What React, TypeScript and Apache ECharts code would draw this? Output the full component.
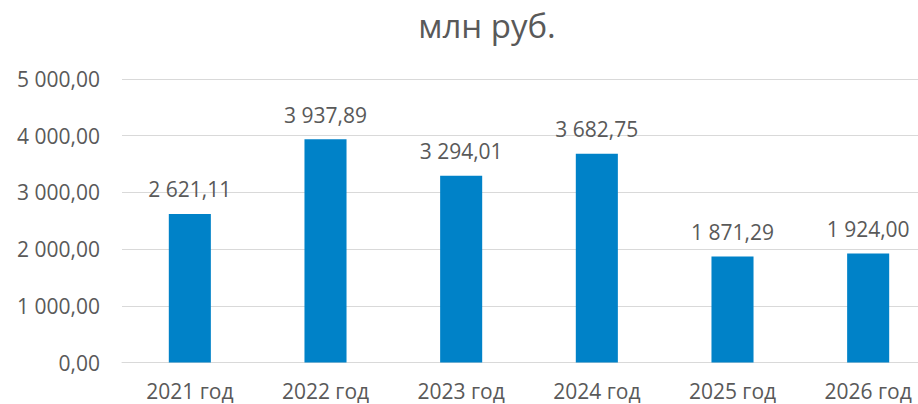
import React, { useEffect, useRef } from "react";
import * as echarts from "echarts";

const categories: string[] = ["2021 год", "2022 год", "2023 год", "2024 год", "2025 год", "2026 год"];
const values: number[] = [2621.11, 3937.89, 3294.01, 3682.75, 1871.29, 1924.0];
const yTicks: number[] = [0, 1000, 2000, 3000, 4000, 5000];
const title = "млн руб.";

function fmt(v: number): string {
  const fixed = Math.abs(v).toFixed(2);
  const [intPart, dec] = fixed.split(".");
  const withSpaces = intPart.replace(/\B(?=(\d{3})+(?!\d))/g, " ");
  return (v < 0 ? "-" : "") + withSpaces + "," + dec;
}

const FONT = "'Open Sans', 'Noto Sans', sans-serif";
const TEXT = "#595959";

export default function App() {
  const ref = useRef<HTMLDivElement>(null);
  useEffect(() => {
    if (!ref.current) return;
    const chart = echarts.init(ref.current, null, { renderer: "svg" });
    chart.setOption({
      animation: false,
      backgroundColor: "#ffffff",
      title: {
        text: title,
        left: 482,
        top: 4,
        textAlign: "center",
        textStyle: { fontFamily: FONT, fontSize: 33, fontWeight: "normal", color: TEXT },
      },
      grid: { left: 122, top: 79, width: 814, height: 283.5, containLabel: false },
      xAxis: {
        type: "category",
        data: categories,
        axisLine: { show: true, lineStyle: { color: "#D9D9D9", width: 1 } },
        axisTick: { show: false },
        axisLabel: { color: TEXT, fontFamily: FONT, fontSize: 21, margin: 18 },
      },
      yAxis: {
        type: "value",
        min: yTicks[0],
        max: yTicks[yTicks.length - 1],
        interval: 1000,
        axisLine: { show: false },
        axisTick: { show: false },
        splitLine: { lineStyle: { color: "#D9D9D9", width: 1 } },
        axisLabel: {
          color: TEXT,
          fontFamily: FONT,
          fontSize: 21,
          margin: 22,
          formatter: (v: number) => fmt(v),
        },
      },
      series: [
        {
          type: "bar",
          data: values,
          barWidth: "31%",
          itemStyle: { color: "#0082C8" },
          label: {
            show: true,
            position: "top",
            distance: 14,
            color: TEXT,
            fontFamily: FONT,
            fontSize: 21,
            formatter: (p: any) => fmt(p.value),
          },
        },
      ],
    });
    return () => chart.dispose();
  }, []);
  return (
    <div style={{ position: "fixed", left: 0, top: 0, width: 918, height: 404, overflow: "hidden", background: "#fff" }}>
      <div ref={ref} style={{ position: "absolute", left: 0, top: 0, width: 960, height: 404 }} />
    </div>
  );
}
